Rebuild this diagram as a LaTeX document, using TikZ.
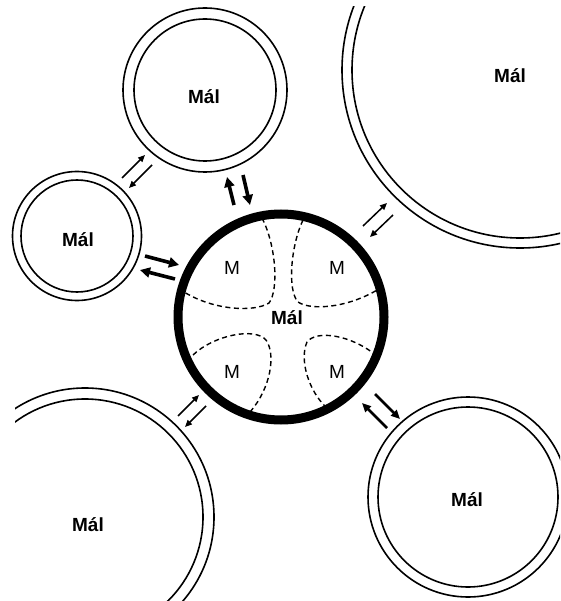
\documentclass[tikz,border=0pt]{standalone}
\usepackage{fontspec}
\setmainfont{Liberation Sans}
\usetikzlibrary{arrows.meta}
\begin{document}
\begin{tikzpicture}[x=1pt,y=-1pt,
  ring/.style={line width=1.6pt},
  lbl/.style={font=\fontsize{19}{22}\selectfont\bfseries, inner sep=0pt},
  mlbl/.style={font=\fontsize{19}{22}\selectfont, inner sep=0pt},
  lobe/.style={line width=1.4pt, dash pattern=on 5pt off 3.5pt},
  thinarr/.style={line width=1.5pt, -{Triangle[length=7pt,width=6pt]}},
  medarr/.style={line width=2.6pt, -{Triangle[length=9pt,width=8pt]}},
  thickarr/.style={line width=3.6pt, -{Triangle[length=10pt,width=10pt]}}]
\useasboundingbox (0,0) rectangle (560,601);
\clip (0,0) rectangle (560,601);
% centres
\coordinate (ctl) at (205,90);
\coordinate (cl) at (77,236);
\coordinate (ctr) at (520,70);
\coordinate (cbr) at (468,497);
\coordinate (cbl) at (85,517);
\coordinate (cc) at (281,317);
% outer cells
\draw[ring] (ctl) circle[radius=82pt] (ctl) circle[radius=71pt];
\draw[ring] (cl) circle[radius=64.5pt] (cl) circle[radius=56pt];
\begin{scope}
  \clip (0,7) rectangle (560,601);
  \draw[ring] (ctr) circle[radius=178pt] (ctr) circle[radius=168pt];
\end{scope}
\draw[ring] (cbr) circle[radius=100pt] (cbr) circle[radius=90pt];
\begin{scope}
  \clip (15,0) rectangle (560,601);
  \draw[ring] (cbl) circle[radius=129pt] (cbl) circle[radius=118pt];
\end{scope}
% lobes in central cell
\draw[lobe] (262,218) .. controls (276,245) and (279,290) .. (269,303)
  .. controls (255,312) and (215,311) .. (184,292);
\draw[lobe] (303,220) .. controls (291,245) and (287,290) .. (298,302)
  .. controls (311,311) and (350,308) .. (382,287);
\draw[lobe] (193,355) .. controls (214,335) and (255,327) .. (266,340)
  .. controls (276,354) and (271,388) .. (250,412);
\draw[lobe] (377,356) .. controls (350,334) and (316,330) .. (307,342)
  .. controls (299,360) and (309,392) .. (327,408);
% central cell
\draw[line width=9pt] (cc) circle[radius=103pt];
% labels
\node[lbl] (ttl) at (204,97) {Mál};
\node[lbl] (tl) at (78,240) {Mál};
\node[lbl] (ttr) at (510,76) {Mál};
\node[lbl] (tbr) at (467,500) {Mál};
\node[lbl] (tbl) at (88,525) {Mál};
\node[lbl] (tc) at (287,318) {Mál};
\node[mlbl] (m1) at (232,268) {M};
\node[mlbl] (m2) at (337,268) {M};
\node[mlbl] (m3) at (232,372) {M};
\node[mlbl] (m4) at (337,372) {M};
% arrows
\coordinate (a1s) at (234,205); \coordinate (a1e) at (227,177);
\coordinate (b1s) at (243,175); \coordinate (b1e) at (250,205);
\draw[thickarr] (a1s) -- (a1e);
\draw[thickarr] (b1s) -- (b1e);
\coordinate (a2s) at (145,256); \coordinate (a2e) at (179,265);
\coordinate (b2s) at (175,279); \coordinate (b2e) at (140,270);
\draw[thickarr] (a2s) -- (a2e);
\draw[thickarr] (b2s) -- (b2e);
\coordinate (a3s) at (122,178); \coordinate (a3e) at (145,155);
\coordinate (b3s) at (152,165); \coordinate (b3e) at (129,188);
\draw[thinarr] (a3s) -- (a3e);
\draw[thinarr] (b3s) -- (b3e);
\coordinate (a4s) at (363,226); \coordinate (a4e) at (387,203);
\coordinate (b4s) at (393,215); \coordinate (b4e) at (370,237);
\draw[thinarr] (a4s) -- (a4e);
\draw[thinarr] (b4s) -- (b4e);
\coordinate (a5s) at (178,416); \coordinate (a5e) at (199,395);
\coordinate (b5s) at (206,406); \coordinate (b5e) at (185,427);
\draw[thinarr] (a5s) -- (a5e);
\draw[thinarr] (b5s) -- (b5e);
\coordinate (a6s) at (375,394); \coordinate (a6e) at (400,419);
\coordinate (b6s) at (387,428); \coordinate (b6e) at (362,403);
\draw[medarr] (a6s) -- (a6e);
\draw[medarr] (b6s) -- (b6e);
\end{tikzpicture}
\end{document}
